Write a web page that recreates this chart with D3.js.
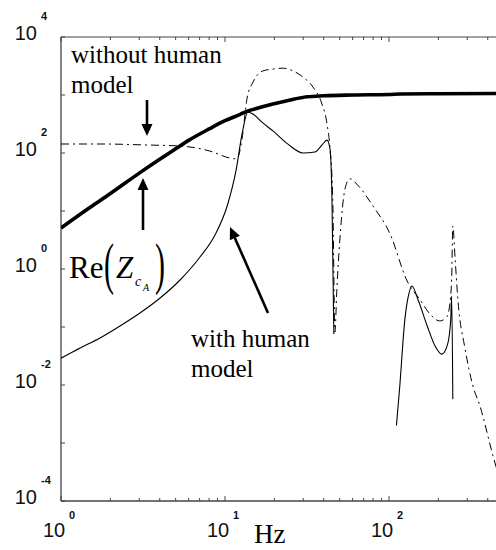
<!DOCTYPE html>
<html><head><meta charset="utf-8">
<script src="https://cdn.jsdelivr.net/npm/d3@7/dist/d3.min.js"></script>
<style>body{margin:0;background:#fff;} svg{display:block;}</style>
</head><body>
<svg id="c" width="496" height="550"></svg>
<script>
// Re(Z_cA) – thick solid
const reZFreq = [1,1.5,2,3,4,5,6,8,10,12.3,13.8,15,19.6,25,31.6,40,60,100,117,200,500];
const reZVal  = [5.1,11.5,20,45,78,118,165,260,360,460,530,570,700,820,930,970,1000,1020,1040,1050,1060];
// without human model – dash-dot
const withoutFreq = [1,1.73,3.48,5.32,8.09,10.7,11.8,12.7,13.6,14.8,17,19.6,22.5,26,29.9,34.4,39,41.9,43.7,45.4,46.8,48.1,50.2,53.9,57.7,64.4,79.8,101.6,129,154,177,204,225,234,241,245,253,263,291,325,358,441,500];
const withoutVal  = [143,143,137,132,108,82,79,174,850,1660,2600,2800,2900,2600,2040,1370,700,316,117,16,0.082,0.45,3.3,24,36,28,12.2,4.0,0.62,0.30,0.17,0.127,0.149,0.23,0.67,5.5,1.5,0.30,0.042,0.0096,0.0044,0.00047,0.00015];
// with human model – thin solid (two pieces)
const withFreqA = [1,1.31,1.73,2.29,3.03,4.02,5.32,7.04,8.69,10.4,11.66,12.7,13.8,14.8,17,19.6,24.2,29.9,35.3,39,41.9,43.7,44.9,46.1];
const withValA  = [0.029,0.0434,0.0646,0.104,0.174,0.316,0.646,1.61,3.86,13.2,49,212,510,470,330,240,142,100,104,137,167,117,16,0.076];
const withFreqB = [111,116,125,132,138,150,171,191,210,228,238,241,245];
const withValB  = [0.0020,0.0086,0.137,0.37,0.51,0.30,0.104,0.047,0.034,0.051,0.137,0.34,0.0057];
const xTicks = [1,10,100];
const xTickExp = ["0","1","2"];
const yTicks = [1e-4,1e-2,1,1e2,1e4];
const yTickExp = ["-4","-2","0","2","4"];

const svg = d3.select("#c");
const L=61, T=37, B=501;
const x = d3.scaleLog().domain([1,500]).range([L, L+Math.log10(500)*164]);
const y = d3.scaleLog().domain([1e-4,1e4]).range([B,T]);
const R = x(500);

svg.append("defs").append("clipPath").attr("id","clip")
  .append("rect").attr("x",L).attr("y",T).attr("width",R-L).attr("height",B-T);

// frame
const ax = svg.append("g").attr("stroke","#444").attr("fill","none");
ax.append("line").attr("x1",L).attr("x2",L).attr("y1",T).attr("y2",B).attr("stroke-width",1.3);
ax.append("line").attr("x1",L).attr("x2",R).attr("y1",B).attr("y2",B).attr("stroke-width",1.3);
ax.append("line").attr("x1",L).attr("x2",R).attr("y1",T).attr("y2",T).attr("stroke-width",1);
ax.append("line").attr("x1",R).attr("x2",R).attr("y1",T).attr("y2",B).attr("stroke-width",1);

// x ticks (major + minor)
const xAll = x.ticks(20);
xAll.forEach(v=>{
  const major = xTicks.includes(v);
  const len = major?5:3;
  ax.append("line").attr("x1",x(v)).attr("x2",x(v)).attr("y1",B).attr("y2",B-len);
  ax.append("line").attr("x1",x(v)).attr("x2",x(v)).attr("y1",T).attr("y2",T+len);
});
// y ticks every decade
d3.range(-4,5).forEach(e=>{
  const v=Math.pow(10,e);
  ax.append("line").attr("x1",L).attr("x2",L+4).attr("y1",y(v)).attr("y2",y(v));
});

const sans = "Liberation Sans, Arial, sans-serif";
const serif = "Liberation Serif, Times New Roman, serif";
// x tick labels
xTicks.forEach((v,i)=>{
  const g = svg.append("g").attr("font-family",sans).attr("fill","#111");
  g.append("text").attr("x",x(v)-7).attr("y",537).attr("text-anchor","middle").attr("font-size",20).text("10");
  g.append("text").attr("x",x(v)+8).attr("y",519).attr("font-size",11).attr("font-weight","bold").text(xTickExp[i]);
});
// y tick labels
yTicks.forEach((v,i)=>{
  const g = svg.append("g").attr("font-family",sans).attr("fill","#111");
  g.append("text").attr("x",37).attr("y",y(v)+3).attr("text-anchor","end").attr("font-size",20).text("10");
  g.append("text").attr("x",41).attr("y",y(v)-17).attr("font-size",11).attr("font-weight","bold").text(yTickExp[i]);
});

// curves
const line = d3.line().x(d=>x(d[0])).y(d=>y(d[1])).curve(d3.curveMonotoneX);
const cg = svg.append("g").attr("clip-path","url(#clip)").attr("fill","none").attr("stroke","#000");
cg.append("path").datum(d3.zip(withoutFreq,withoutVal)).attr("d",line)
  .attr("stroke-width",1).attr("stroke-dasharray","8,4,2,4");
cg.append("path").datum(d3.zip(withFreqA,withValA)).attr("d",line).attr("stroke-width",1.1);
cg.append("path").datum(d3.zip(withFreqB,withValB)).attr("d",line).attr("stroke-width",1.1);
cg.append("path").datum(d3.zip(reZFreq,reZVal)).attr("d",line).attr("stroke-width",3.6);

// annotations
const ann = svg.append("g").attr("font-family",serif).attr("fill","#000");
ann.append("text").attr("x",71).attr("y",63).attr("font-size",25).text("without human");
ann.append("text").attr("x",71).attr("y",93).attr("font-size",25).text("model");
ann.append("text").attr("x",191).attr("y",347).attr("font-size",25).text("with human");
ann.append("text").attr("x",191).attr("y",377).attr("font-size",25).text("model");
ann.append("text").attr("x",254).attr("y",543).attr("font-size",27).text("Hz");
// Re(Z_cA)
ann.append("text").attr("x",69).attr("y",278).attr("font-size",31).text("Re");
ann.append("text").attr("transform","translate(104,283) scale(1,1.9)").attr("font-size",30).text("(");
ann.append("text").attr("x",116).attr("y",278).attr("font-size",31).attr("font-style","italic").text("Z");
ann.append("text").attr("x",135).attr("y",286).attr("font-size",14).attr("font-style","italic").text("c");
ann.append("text").attr("x",143).attr("y",291).attr("font-size",10).attr("font-style","italic").text("A");
ann.append("text").attr("transform","translate(155,283) scale(1,1.9)").attr("font-size",30).text(")");

// arrows
function arrow(x1,y1,x2,y2){
  const a=Math.atan2(y2-y1,x2-x1), hl=12, hw=5.5;
  const bx=x2-hl*Math.cos(a), by=y2-hl*Math.sin(a);
  svg.append("line").attr("x1",x1).attr("y1",y1).attr("x2",bx).attr("y2",by)
     .attr("stroke","#000").attr("stroke-width",2.6);
  const px=-Math.sin(a)*hw, py=Math.cos(a)*hw;
  svg.append("path").attr("d",`M${x2},${y2}L${bx+px},${by+py}L${bx-px},${by-py}Z`).attr("fill","#000");
}
arrow(147,100,147,136);
arrow(143,230,143,178);
arrow(268,313,230,227);
</script>
</body></html>
